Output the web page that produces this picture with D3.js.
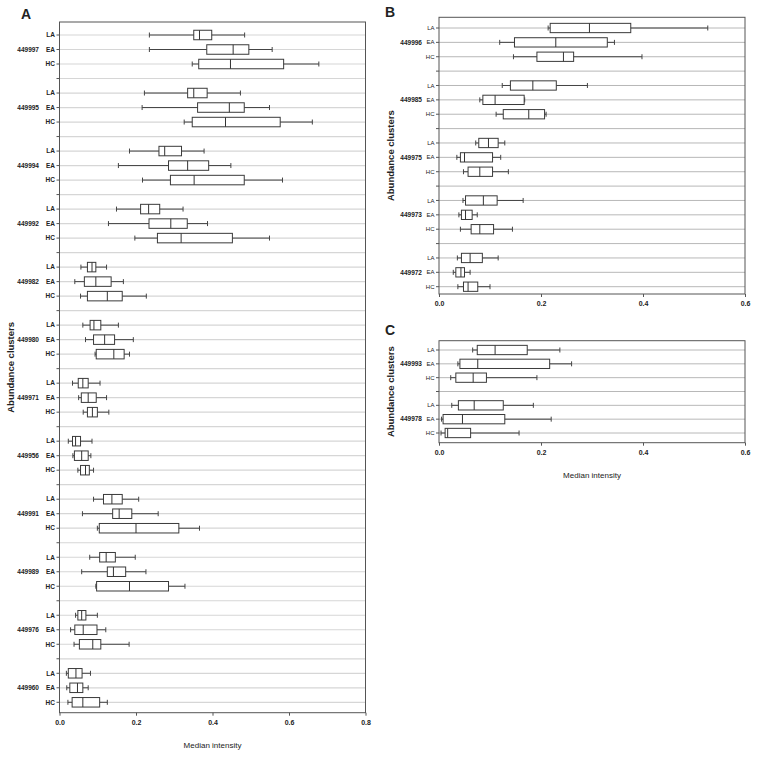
<!DOCTYPE html>
<html>
<head>
<meta charset="utf-8">
<script src="https://cdn.jsdelivr.net/npm/d3@7"></script>
<style>
  body { margin: 0; background: #fff; }
  text { font-family: "Liberation Sans", Arial, sans-serif; fill: #222; }
</style>
</head>
<body>
<svg id="chart" width="758" height="757"></svg>
<script>
// groups within each cluster
const groups = ['LA', 'EA', 'HC'];

// panel A clusters, top to bottom
const clustersA = ['449997', '449995', '449994', '449992', '449982', '449980',
                   '449971', '449956', '449991', '449989', '449976', '449960'];
// [whisker low, Q1, median, Q3, whisker high] per cluster x group (LA, EA, HC)
const boxesA = [
  [0.235, 0.351, 0.366, 0.398, 0.484], [0.235, 0.385, 0.454, 0.495, 0.556], [0.347, 0.364, 0.447, 0.586, 0.678],
  [0.222, 0.335, 0.351, 0.386, 0.473], [0.216, 0.361, 0.444, 0.483, 0.549], [0.326, 0.347, 0.434, 0.577, 0.661],
  [0.183, 0.260, 0.275, 0.319, 0.378], [0.154, 0.285, 0.335, 0.390, 0.448], [0.217, 0.290, 0.352, 0.483, 0.583],
  [0.149, 0.212, 0.233, 0.262, 0.323], [0.128, 0.234, 0.291, 0.334, 0.387], [0.197, 0.256, 0.318, 0.452, 0.549],
  [0.056, 0.073, 0.085, 0.095, 0.123], [0.040, 0.065, 0.095, 0.135, 0.167], [0.055, 0.073, 0.125, 0.164, 0.227],
  [0.061, 0.080, 0.090, 0.108, 0.154], [0.068, 0.089, 0.118, 0.144, 0.193], [0.093, 0.096, 0.142, 0.169, 0.183],
  [0.034, 0.049, 0.061, 0.075, 0.106], [0.050, 0.057, 0.075, 0.096, 0.123], [0.062, 0.073, 0.086, 0.099, 0.129],
  [0.023, 0.034, 0.042, 0.055, 0.085], [0.035, 0.039, 0.058, 0.075, 0.082], [0.048, 0.055, 0.068, 0.078, 0.089],
  [0.089, 0.115, 0.137, 0.164, 0.207], [0.060, 0.139, 0.156, 0.189, 0.258], [0.099, 0.104, 0.200, 0.312, 0.366],
  [0.079, 0.105, 0.122, 0.146, 0.198], [0.058, 0.125, 0.141, 0.173, 0.226], [0.095, 0.097, 0.183, 0.285, 0.328],
  [0.042, 0.048, 0.058, 0.069, 0.099], [0.029, 0.040, 0.062, 0.098, 0.121], [0.038, 0.052, 0.087, 0.108, 0.182],
  [0.018, 0.023, 0.043, 0.059, 0.081], [0.019, 0.027, 0.047, 0.061, 0.075], [0.022, 0.033, 0.061, 0.105, 0.125]
];
const ticksA = [0, 0.2, 0.4, 0.6, 0.8];

// panel B
const clustersB = ['449996', '449985', '449975', '449973', '449972'];
const boxesB = [
  [0.214, 0.218, 0.295, 0.376, 0.527], [0.119, 0.148, 0.229, 0.330, 0.344], [0.146, 0.192, 0.244, 0.264, 0.398],
  [0.124, 0.140, 0.184, 0.230, 0.291], [0.080, 0.086, 0.110, 0.167, 0.168], [0.112, 0.126, 0.176, 0.207, 0.210],
  [0.072, 0.078, 0.097, 0.116, 0.129], [0.035, 0.042, 0.050, 0.105, 0.121], [0.048, 0.057, 0.080, 0.105, 0.136],
  [0.047, 0.052, 0.087, 0.114, 0.165], [0.039, 0.044, 0.052, 0.065, 0.075], [0.042, 0.063, 0.080, 0.107, 0.144],
  [0.036, 0.044, 0.061, 0.085, 0.116], [0.028, 0.033, 0.043, 0.050, 0.061], [0.037, 0.048, 0.057, 0.076, 0.100]
];
const ticksBC = [0, 0.2, 0.4, 0.6];

// panel C
const clustersC = ['449993', '449978'];
const boxesC = [
  [0.066, 0.075, 0.110, 0.173, 0.237], [0.037, 0.041, 0.076, 0.217, 0.260], [0.023, 0.033, 0.067, 0.093, 0.192],
  [0.025, 0.038, 0.069, 0.126, 0.185], [0.005, 0.008, 0.046, 0.129, 0.220], [0.004, 0.012, 0.017, 0.062, 0.157]
];

const svg = d3.select('#chart');

function drawPanel(cfg) {
  const g = svg.append('g');
  const nRows = cfg.clusters.length * 4 - 1;
  const x = d3.scaleLinear().domain([0, d3.max(cfg.ticks)]).range([cfg.left, cfg.right]);
  const y = d3.scaleLinear().domain([0, nRows - 1]).range([cfg.rowTop, cfg.rowBottom]);

  // gridlines for every row incl. separators
  g.selectAll('.grid')
    .data(d3.range(nRows))
    .enter().append('line')
    .attr('x1', cfg.left).attr('x2', cfg.right)
    .attr('y1', d => y(d)).attr('y2', d => y(d))
    .attr('stroke', cfg.gridColor).attr('stroke-width', cfg.gridWidth);

  // frame
  g.append('rect')
    .attr('x', cfg.left).attr('y', cfg.top)
    .attr('width', cfg.right - cfg.left).attr('height', cfg.bottom - cfg.top)
    .attr('fill', 'none').attr('stroke', '#555').attr('stroke-width', 1);

  // y ticks
  g.selectAll('.ytick')
    .data(d3.range(nRows))
    .enter().append('line')
    .attr('x1', cfg.left - 3).attr('x2', cfg.left)
    .attr('y1', d => y(d)).attr('y2', d => y(d))
    .attr('stroke', '#555');

  const rows = [];
  cfg.clusters.forEach((c, ci) => {
    groups.forEach((grp, gi) => {
      rows.push({ cluster: c, grp, row: ci * 4 + gi, s: cfg.boxes[ci * 3 + gi] });
    });
    g.append('text')
      .attr('x', cfg.clusterX).attr('y', y(ci * 4 + 1)).attr('dy', '0.35em')
      .attr('text-anchor', 'end')
      .style('font-size', '6.5px').style('font-weight', 'bold')
      .text(c);
  });

  // group labels
  g.selectAll('.glab')
    .data(rows)
    .enter().append('text')
    .attr('x', cfg.left - 4.5).attr('y', d => y(d.row)).attr('dy', '0.35em')
    .attr('text-anchor', 'end')
    .style('font-size', cfg.groupFont).style('font-weight', cfg.groupWeight)
    .text(d => d.grp);

  const half = cfg.boxH / 2;
  const bx = g.selectAll('.box').data(rows).enter().append('g');
  // whisker line
  bx.append('line')
    .attr('x1', d => x(d.s[0])).attr('x2', d => x(d.s[4]))
    .attr('y1', d => y(d.row)).attr('y2', d => y(d.row))
    .attr('stroke', '#444').attr('stroke-width', 1);
  // caps
  [0, 4].forEach(k => {
    bx.append('line')
      .attr('x1', d => x(d.s[k])).attr('x2', d => x(d.s[k]))
      .attr('y1', d => y(d.row) - 2.5).attr('y2', d => y(d.row) + 2.5)
      .attr('stroke', '#444').attr('stroke-width', 1);
  });
  bx.append('rect')
    .attr('x', d => x(d.s[1])).attr('width', d => x(d.s[3]) - x(d.s[1]))
    .attr('y', d => y(d.row) - half).attr('height', cfg.boxH)
    .attr('fill', '#fff').attr('stroke', '#3a3a3a').attr('stroke-width', 1);
  bx.append('line')
    .attr('x1', d => x(d.s[2])).attr('x2', d => x(d.s[2]))
    .attr('y1', d => y(d.row) - half).attr('y2', d => y(d.row) + half)
    .attr('stroke', '#333').attr('stroke-width', 1);

  // x axis
  const xa = g.append('g').attr('transform', `translate(0,${cfg.bottom})`)
    .call(d3.axisBottom(x).tickValues(cfg.ticks).tickFormat(d3.format('.1f')).tickSize(3).tickPadding(4));
  xa.select('.domain').remove();
  xa.selectAll('line').attr('stroke', '#555');
  xa.selectAll('text').style('font-size', '7px').style('font-weight', 'bold')
    .style('font-family', '"Liberation Sans", Arial, sans-serif').attr('fill', '#333');

  // y title
  g.append('text')
    .attr('transform', `translate(${cfg.yTitleX},${(cfg.top + cfg.bottom) / 2}) rotate(-90)`)
    .attr('text-anchor', 'middle')
    .style('font-size', '9.5px').style('font-weight', 'bold')
    .text('Abundance clusters');

  if (cfg.xTitleY) {
    g.append('text')
      .attr('x', (cfg.left + cfg.right) / 2).attr('y', cfg.xTitleY)
      .attr('text-anchor', 'middle')
      .style('font-size', '8px')
      .text('Median intensity');
  }

  g.append('text')
    .attr('x', cfg.letterX).attr('y', cfg.letterY)
    .style('font-size', '14px').style('font-weight', 'bold')
    .text(cfg.letter);
}

drawPanel({
  letter: 'A', letterX: 21, letterY: 19,
  clusters: clustersA, boxes: boxesA, ticks: ticksA,
  left: 59.5, right: 365.5, top: 22, bottom: 712.7,
  rowTop: 35, rowBottom: 702.3, boxH: 9.5,
  gridColor: '#d6d6d6', gridWidth: 1.2,
  clusterX: 39, groupFont: '6.5px', groupWeight: 'bold',
  yTitleX: 14, xTitleY: 748
});

drawPanel({
  letter: 'B', letterX: 385, letterY: 17,
  clusters: clustersB, boxes: boxesB, ticks: ticksBC,
  left: 439, right: 745, top: 17.3, bottom: 294,
  rowTop: 28, rowBottom: 286.7, boxH: 9.3,
  gridColor: '#b8b8b8', gridWidth: 1,
  clusterX: 422, groupFont: '6px', groupWeight: 'normal',
  yTitleX: 393.5, xTitleY: null
});

drawPanel({
  letter: 'C', letterX: 385, letterY: 335,
  clusters: clustersC, boxes: boxesC, ticks: ticksBC,
  left: 439, right: 745, top: 340.7, bottom: 442.7,
  rowTop: 350, rowBottom: 433, boxH: 9.3,
  gridColor: '#b8b8b8', gridWidth: 1,
  clusterX: 422, groupFont: '6px', groupWeight: 'normal',
  yTitleX: 394, xTitleY: 478
});
</script>
</body>
</html>
